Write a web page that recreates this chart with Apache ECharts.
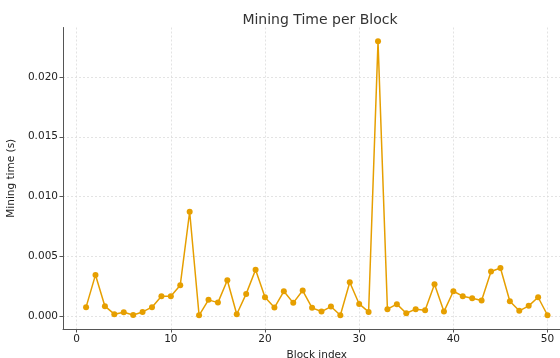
<!DOCTYPE html>
<html><head><meta charset="utf-8">
<script src="https://cdn.jsdelivr.net/npm/echarts@6/dist/echarts.min.js"></script>
<style>html,body{margin:0;padding:0;background:#fff}#c{width:560px;height:358px}</style>
</head><body><div id="c"></div>
<script>
const blocks = [1,2,3,4,5,6,7,8,9,10,11,12,13,14,15,16,17,18,19,20,21,22,23,24,25,26,27,28,29,30,31,32,33,34,35,36,37,38,39,40,41,42,43,44,45,46,47,48,49,50];
const miningTime = [0.00073,0.00343,0.00081,0.00014,0.00031,0.00008,0.00033,0.00073,0.00165,0.00165,
  0.00257,0.00872,0.00005,0.00134,0.00111,0.00298,0.00014,0.00184,0.00387,0.00156,
  0.00070,0.00206,0.00109,0.00212,0.00067,0.00036,0.00078,0.00005,0.00281,0.00100,
  0.00033,0.02300,0.00056,0.00098,0.00022,0.00056,0.00047,0.00265,0.00036,0.00206,
  0.00165,0.00148,0.00128,0.00371,0.00401,0.00123,0.00042,0.00084,0.00156,0.00005];
const xTicks = [0,10,20,30,40,50];
const yTicks = [0,0.005,0.010,0.015,0.020];

const font = 'DejaVu Sans';
const chart = echarts.init(document.getElementById('c'), null, {renderer:'canvas'});
const gridLineStyle = {color:'#dcdcdc', type:[2,2], width:0.8};
chart.setOption({
  animation:false,
  title:{text:'Mining Time per Block', left:315, top:8, textAlign:'center',
    textStyle:{fontFamily:font, fontSize:14, fontWeight:'normal', color:'#333'}},
  grid:{left:63, top:27.5, width:507.6, height:301.5, containLabel:false, outerBoundsMode:'none'},
  xAxis:{type:'value', min:-1.45, max:52.45,
    name:'Block index', nameLocation:'middle', nameGap:18,
    nameTextStyle:{fontFamily:font, fontSize:10.5, color:'#222'},
    axisLine:{show:true, onZero:false, lineStyle:{color:'#555', width:1}},
    axisTick:{show:true, length:3.5, customValues:xTicks, lineStyle:{color:'#555'}},
    axisLabel:{customValues:xTicks, fontFamily:font, fontSize:10.5, color:'#222', margin:5},
    splitLine:{show:true, lineStyle:gridLineStyle}},
  yAxis:{type:'value', min:-0.0011, max:0.02415,
    name:'Mining time (s)', nameLocation:'middle', nameGap:38, nameRotate:90,
    nameTextStyle:{fontFamily:font, fontSize:10.5, color:'#222'},
    axisLine:{show:true, onZero:false, lineStyle:{color:'#555', width:1}},
    axisTick:{show:true, length:3.5, customValues:yTicks, lineStyle:{color:'#555'}},
    axisLabel:{customValues:yTicks, fontFamily:font, fontSize:10.5, color:'#222', margin:5,
      formatter:v=>v.toFixed(3)},
    splitLine:{show:true, lineStyle:gridLineStyle}},
  series:[{type:'line', data:blocks.map((b,i)=>[b, miningTime[i]]),
    symbol:'circle', symbolSize:6, showSymbol:true,
    lineStyle:{color:'#E69F00', width:1.5}, itemStyle:{color:'#E69F00'}}]
});
</script></body></html>
